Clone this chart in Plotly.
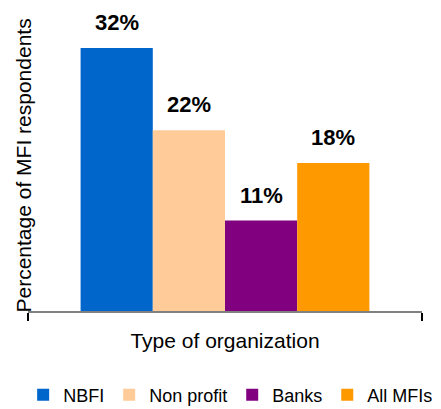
import plotly.graph_objects as go

categories = ["Type of organization"]
series_names = ["NBFI", "Non profit", "Banks", "All MFIs"]
series_values = [32, 22, 11, 18]
series_colors = ["#0066CC", "#FFCC99", "#800080", "#FF9900"]
label_texts = ["32%", "22%", "11%", "18%"]
y_title = "Percentage of MFI respondents"
x_title = "Type of organization"

FONT = "Liberation Sans, Arial, sans-serif"
BARGAP = 0.267

fig = go.Figure()
for name, val, col in zip(series_names, series_values, series_colors):
    fig.add_trace(go.Bar(
        x=categories, y=[val], name=name,
        marker=dict(color=col, line=dict(width=0)),
    ))

# value labels above bars
n = len(series_values)
group_w = 1 - BARGAP
bar_w = group_w / n
for i, (val, txt) in enumerate(zip(series_values, label_texts)):
    xc = -group_w / 2 + bar_w * (i + 0.5)
    fig.add_annotation(
        x=xc, y=val, xref="x", yref="y", text=txt, showarrow=False,
        yanchor="bottom", yshift=11,
        font=dict(family=FONT, size=22, color="#000000", weight="bold"),
    )

# y-axis title (placed slightly overlapping the axis start, as in the reference)
fig.add_annotation(
    x=0, y=0.5, xref="paper", yref="paper", text=y_title, showarrow=False,
    textangle=-90, xanchor="center", yanchor="middle", xshift=-5,
    font=dict(family=FONT, size=21, color="#000000"),
)

fig.update_layout(
    width=441, height=409,
    margin=dict(l=28, r=19, t=20, b=98, autoexpand=False),
    paper_bgcolor="white", plot_bgcolor="white",
    barmode="group", bargap=BARGAP, bargroupgap=0,
    font=dict(family=FONT, size=21, color="#000000"),
    showlegend=True,
    legend=dict(
        orientation="h", x=1.041, xanchor="right", y=-0.289, yanchor="middle",
        font=dict(family=FONT, size=18, color="#000000"),
        itemwidth=30, tracegroupgap=0,
    ),
    xaxis=dict(
        type="category", range=[-0.5, 0.5], tickson="boundaries",
        automargin=False,
        showline=True, linecolor="#808080", linewidth=2,
        ticks="outside", ticklen=8, tickcolor="#000000", tickwidth=2,
        showticklabels=False, showgrid=False, zeroline=False,
        title=dict(text=x_title, standoff=21,
                   font=dict(family=FONT, size=21, color="#000000")),
    ),
    yaxis=dict(
        range=[0, 35.4], showline=False, showgrid=False, zeroline=False,
        automargin=False,
        showticklabels=False, ticks="",
    ),
)

fig.write_html(
    "out.html",
    config={"displayModeBar": False},
    post_script="document.body.style.margin='0';document.body.style.overflow='hidden';",
)
